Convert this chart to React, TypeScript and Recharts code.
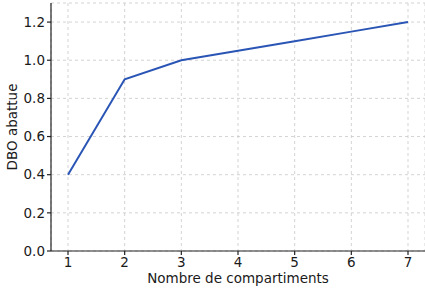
import React from 'react';
import { LineChart, Line, XAxis, YAxis, CartesianGrid, Label } from 'recharts';

const compartments = [1, 2, 3, 4, 5, 6, 7];
const dboValues = [0.4, 0.9, 1.0, 1.05, 1.1, 1.15, 1.2];
const xTicks = [1, 2, 3, 4, 5, 6, 7];
const yTicks = [0, 0.2, 0.4, 0.6, 0.8, 1.0, 1.2];

const data = compartments.map((c, i) => ({ x: c, y: dboValues[i] }));

const font = 'DejaVu Sans, sans-serif';

export default function App() {
  return (
    <div style={{ position: 'absolute', left: 0, top: 0, width: 425, height: 291, background: '#fff' }}>
      <LineChart width={425} height={291} data={data} margin={{ top: 3, right: 0, left: 0, bottom: 0 }}>
        <CartesianGrid stroke="#c8c8c8" strokeDasharray="3 3" strokeWidth={0.8} />
        <XAxis
          dataKey="x"
          type="number"
          domain={[0.7, 7.3]}
          ticks={xTicks}
          allowDataOverflow
          height={40}
          stroke="#222"
          strokeWidth={1.2}
          tickSize={4}
          tickMargin={2}
          tick={{ fill: '#1a1a1a', fontSize: 13.5, fontFamily: font }}
        >
          <Label value="Nombre de compartiments" position="insideBottom" offset={8} style={{ fill: '#1a1a1a', fontSize: 13.5, fontFamily: font }} />
        </XAxis>
        <YAxis
          type="number"
          domain={[0, 1.3]}
          ticks={yTicks}
          allowDataOverflow
          width={51}
          stroke="#222"
          strokeWidth={1.2}
          tickSize={4}
          tickMargin={2}
          tickFormatter={(v: number) => v.toFixed(1)}
          tick={{ fill: '#1a1a1a', fontSize: 13.5, fontFamily: font }}
        >
          <Label value="DBO abattue" angle={-90} position="insideLeft" offset={12} style={{ fill: '#1a1a1a', fontSize: 13.5, fontFamily: font, textAnchor: 'middle' }} />
        </YAxis>
        <Line
          type="linear"
          dataKey="y"
          stroke="#2a55b5"
          strokeWidth={2}
          dot={false}
          isAnimationActive={false}
        />
      </LineChart>
    </div>
  );
}
